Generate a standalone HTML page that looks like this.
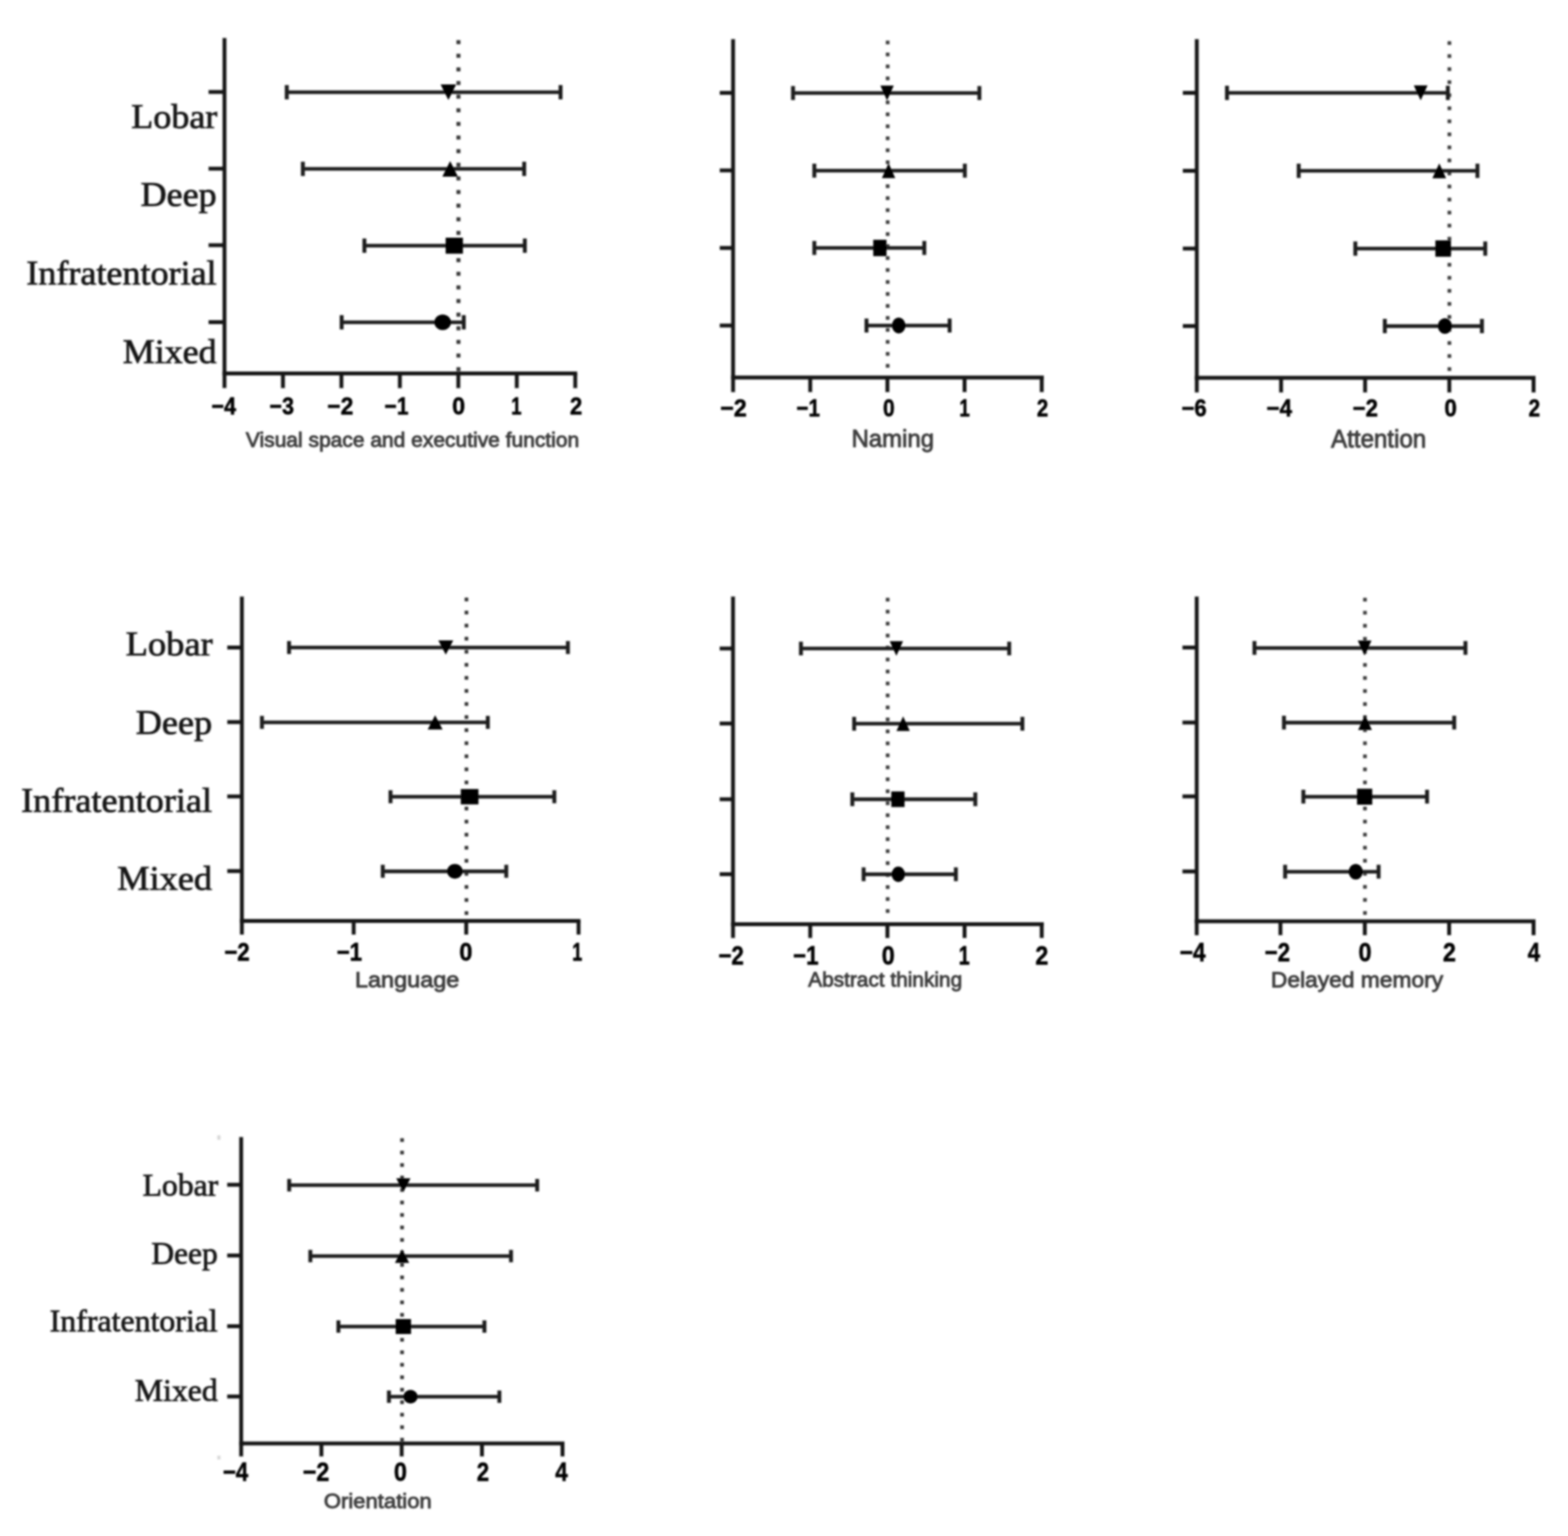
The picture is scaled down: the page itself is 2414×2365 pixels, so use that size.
<!DOCTYPE html>
<html lang="en">
<head>
<meta charset="utf-8">
<title>Forest plots of cognitive domains by location</title>
<style>
html, body { margin: 0; padding: 0; background: #ffffff; }
body { width: 2414px; height: 2365px; overflow: hidden; }
svg { display: block; }
.axis path { stroke: #161616; fill: none; }
.bars path { fill: none; }
.bars .mk { fill: #000000; stroke: none; }
.tl { font-family: "Liberation Sans", sans-serif; font-weight: bold; fill: #000000; stroke: #000000; stroke-width: 0.8px; }
.xl { font-family: "Liberation Sans", sans-serif; fill: #3d3d3d; stroke: #3d3d3d; stroke-width: 1.3px; }
.yl { font-family: "Liberation Serif", serif; fill: #141414; stroke: #141414; stroke-width: 1.1px; }
</style>
</head>
<body>
<svg width="2414" height="2365" viewBox="0 0 2414 2365">
<defs><filter id="soft" x="0" y="0" width="2414" height="2365" filterUnits="userSpaceOnUse"><feGaussianBlur stdDeviation="1.7"/></filter></defs>
<rect width="2414" height="2365" fill="#ffffff"/>
<g filter="url(#soft)">
<g class="panel">
<g class="axis" stroke-width="6">
<path d="M345.6 58.5V597.6"/>
<path d="M342.6 575.1H888.6"/>
<path d="M435.6 575.1v22.5"/>
<path d="M525.6 575.1v22.5"/>
<path d="M615.6 575.1v22.5"/>
<path d="M705.6 575.1v22.5"/>
<path d="M795.6 575.1v22.5"/>
<path d="M885.6 575.1v22.5"/>
<path d="M345.6 141.6h-24.5"/>
<path d="M345.6 259.7h-24.5"/>
<path d="M345.6 377.5h-24.5"/>
<path d="M345.6 496h-24.5"/>
</g>
<g class="zero" fill="#383838">
<rect x="702.7" y="61.8" width="6.2" height="6.2"/>
<rect x="702.7" y="82.78" width="6.2" height="6.2"/>
<rect x="702.7" y="103.76" width="6.2" height="6.2"/>
<rect x="702.7" y="124.74" width="6.2" height="6.2"/>
<rect x="702.7" y="145.72" width="6.2" height="6.2"/>
<rect x="702.7" y="166.7" width="6.2" height="6.2"/>
<rect x="702.7" y="187.68" width="6.2" height="6.2"/>
<rect x="702.7" y="208.66" width="6.2" height="6.2"/>
<rect x="702.7" y="229.64" width="6.2" height="6.2"/>
<rect x="702.7" y="250.62" width="6.2" height="6.2"/>
<rect x="702.7" y="271.6" width="6.2" height="6.2"/>
<rect x="702.7" y="292.58" width="6.2" height="6.2"/>
<rect x="702.7" y="313.56" width="6.2" height="6.2"/>
<rect x="702.7" y="334.54" width="6.2" height="6.2"/>
<rect x="702.7" y="355.52" width="6.2" height="6.2"/>
<rect x="702.7" y="376.5" width="6.2" height="6.2"/>
<rect x="702.7" y="397.48" width="6.2" height="6.2"/>
<rect x="702.7" y="418.46" width="6.2" height="6.2"/>
<rect x="702.7" y="439.44" width="6.2" height="6.2"/>
<rect x="702.7" y="460.42" width="6.2" height="6.2"/>
<rect x="702.7" y="481.4" width="6.2" height="6.2"/>
<rect x="702.7" y="502.38" width="6.2" height="6.2"/>
<rect x="702.7" y="523.36" width="6.2" height="6.2"/>
<rect x="702.7" y="544.34" width="6.2" height="6.2"/>
<rect x="702.7" y="565.32" width="6.2" height="6.2"/>
</g>
<g class="bars" stroke-width="5.6" stroke="#1c1c1c">
<path d="M441.5 142H863"/>
<path class="cap" stroke-width="6" d="M441.5 131v22M863 131v22"/>
<polygon points="678.3,130 702.3,130 690.3,154" class="mk"/>
<path d="M466.3 260H807"/>
<path class="cap" stroke-width="6" d="M466.3 249v22M807 249v22"/>
<polygon points="681,272 705,272 693,248" class="mk"/>
<path d="M561 378.3H808"/>
<path class="cap" stroke-width="6" d="M561 367.3v22M808 367.3v22"/>
<rect x="686.1" y="366" width="26.6" height="24.6" class="mk"/>
<path d="M526 496.3H714"/>
<path class="cap" stroke-width="6" d="M526 485.3v22M714 485.3v22"/>
<ellipse cx="681.5" cy="496.3" rx="12.8" ry="12" class="mk"/>
</g>
<text class="tl" font-size="37.5" transform="translate(325.7 637.9) scale(0.8795 1)">−4</text>
<text class="tl" font-size="37.5" transform="translate(415 637.9) scale(0.8819 1)">−3</text>
<text class="tl" font-size="37.5" transform="translate(504 637.9) scale(0.9333 1)">−2</text>
<text class="tl" font-size="37.5" transform="translate(592.1 637.9) scale(0.8585 1)">−1</text>
<text class="tl" font-size="37.5" transform="translate(696.2 637.9) scale(0.9465 1)">0</text>
<text class="tl" font-size="37.5" transform="translate(787.1 637.9) scale(0.7640 1)">1</text>
<text class="tl" font-size="37.5" transform="translate(877.4 637.9) scale(0.9033 1)">2</text>
<text class="xl" font-size="30.5" transform="translate(378.6 687.5) scale(1.0598 1)">Visual space and executive function</text>
<text class="yl" font-size="52" transform="translate(202 196.5) scale(1.0673 1)">Lobar</text>
<text class="yl" font-size="52" transform="translate(216.5 316.5) scale(1.0664 1)">Deep</text>
<text class="yl" font-size="52" transform="translate(40.5 438) scale(1.0682 1)">Infratentorial</text>
<text class="yl" font-size="52" transform="translate(189 558.5) scale(1.0647 1)">Mixed</text>
</g>
<g class="panel">
<g class="axis" stroke-width="6">
<path d="M1128.6 60.3V603.7"/>
<path d="M1125.6 581.2H1607"/>
<path d="M1247.4 581.2v22.5"/>
<path d="M1366.2 581.2v22.5"/>
<path d="M1485 581.2v22.5"/>
<path d="M1603.8 581.2v22.5"/>
<path d="M1128.6 143h-20.5"/>
<path d="M1128.6 262.4h-20.5"/>
<path d="M1128.6 381.8h-20.5"/>
<path d="M1128.6 501.2h-20.5"/>
</g>
<g class="zero" fill="#3c3c3c">
<rect x="1363.75" y="62.55" width="5.7" height="5.7"/>
<rect x="1363.75" y="80.99" width="5.7" height="5.7"/>
<rect x="1363.75" y="99.43" width="5.7" height="5.7"/>
<rect x="1363.75" y="117.87" width="5.7" height="5.7"/>
<rect x="1363.75" y="136.31" width="5.7" height="5.7"/>
<rect x="1363.75" y="154.75" width="5.7" height="5.7"/>
<rect x="1363.75" y="173.19" width="5.7" height="5.7"/>
<rect x="1363.75" y="191.63" width="5.7" height="5.7"/>
<rect x="1363.75" y="210.07" width="5.7" height="5.7"/>
<rect x="1363.75" y="228.51" width="5.7" height="5.7"/>
<rect x="1363.75" y="246.95" width="5.7" height="5.7"/>
<rect x="1363.75" y="265.39" width="5.7" height="5.7"/>
<rect x="1363.75" y="283.83" width="5.7" height="5.7"/>
<rect x="1363.75" y="302.27" width="5.7" height="5.7"/>
<rect x="1363.75" y="320.71" width="5.7" height="5.7"/>
<rect x="1363.75" y="339.15" width="5.7" height="5.7"/>
<rect x="1363.75" y="357.59" width="5.7" height="5.7"/>
<rect x="1363.75" y="376.03" width="5.7" height="5.7"/>
<rect x="1363.75" y="394.47" width="5.7" height="5.7"/>
<rect x="1363.75" y="412.91" width="5.7" height="5.7"/>
<rect x="1363.75" y="431.35" width="5.7" height="5.7"/>
<rect x="1363.75" y="449.79" width="5.7" height="5.7"/>
<rect x="1363.75" y="468.23" width="5.7" height="5.7"/>
<rect x="1363.75" y="486.67" width="5.7" height="5.7"/>
<rect x="1363.75" y="505.11" width="5.7" height="5.7"/>
<rect x="1363.75" y="523.55" width="5.7" height="5.7"/>
<rect x="1363.75" y="541.99" width="5.7" height="5.7"/>
<rect x="1363.75" y="560.43" width="5.7" height="5.7"/>
</g>
<g class="bars" stroke-width="5.6" stroke="#1c1c1c">
<path d="M1220.9 143.3H1507.8"/>
<path class="cap" stroke-width="6" d="M1220.9 132.5v21.6M1507.8 132.5v21.6"/>
<polygon points="1355.4,131.8 1376,131.8 1365.7,154.8" class="mk"/>
<path d="M1253.7 262.8H1485.4"/>
<path class="cap" stroke-width="6" d="M1253.7 252v21.6M1485.4 252v21.6"/>
<polygon points="1357.7,274.3 1378.3,274.3 1368,251.3" class="mk"/>
<path d="M1253.7 381.8H1423"/>
<path class="cap" stroke-width="6" d="M1253.7 371v21.6M1423 371v21.6"/>
<rect x="1344.4" y="369.2" width="20.4" height="25.2" class="mk"/>
<path d="M1334 501.2H1462"/>
<path class="cap" stroke-width="6" d="M1334 490.4v21.6M1462 490.4v21.6"/>
<ellipse cx="1383.6" cy="501.2" rx="10.3" ry="12.2" class="mk"/>
</g>
<text class="tl" font-size="37.5" transform="translate(1108.9 640.8) scale(0.9520 1)">−2</text>
<text class="tl" font-size="37.5" transform="translate(1226.2 640.8) scale(0.8421 1)">−1</text>
<text class="tl" font-size="37.5" transform="translate(1359.6 640.8) scale(0.8553 1)">0</text>
<text class="tl" font-size="37.5" transform="translate(1476.9 640.8) scale(0.7688 1)">1</text>
<text class="tl" font-size="37.5" transform="translate(1596.3 640.8) scale(0.8408 1)">2</text>
<text class="xl" font-size="37" transform="translate(1311 687.6) scale(0.9964 1)">Naming</text>
</g>
<g class="panel">
<g class="axis" stroke-width="6">
<path d="M1842.5 60.3V604.3"/>
<path d="M1839.5 581.8H2364"/>
<path d="M1972.3 581.8v22.5"/>
<path d="M2101.6 581.8v22.5"/>
<path d="M2231.3 581.8v22.5"/>
<path d="M2361 581.8v22.5"/>
<path d="M1842.5 143h-21.5"/>
<path d="M1842.5 263h-21.5"/>
<path d="M1842.5 382.7h-21.5"/>
<path d="M1842.5 502h-21.5"/>
</g>
<g class="zero" fill="#3c3c3c">
<rect x="2228.55" y="63.45" width="5.7" height="5.7"/>
<rect x="2228.55" y="83.53" width="5.7" height="5.7"/>
<rect x="2228.55" y="103.61" width="5.7" height="5.7"/>
<rect x="2228.55" y="123.69" width="5.7" height="5.7"/>
<rect x="2228.55" y="143.77" width="5.7" height="5.7"/>
<rect x="2228.55" y="163.85" width="5.7" height="5.7"/>
<rect x="2228.55" y="183.93" width="5.7" height="5.7"/>
<rect x="2228.55" y="204.01" width="5.7" height="5.7"/>
<rect x="2228.55" y="224.09" width="5.7" height="5.7"/>
<rect x="2228.55" y="244.17" width="5.7" height="5.7"/>
<rect x="2228.55" y="264.25" width="5.7" height="5.7"/>
<rect x="2228.55" y="284.33" width="5.7" height="5.7"/>
<rect x="2228.55" y="304.41" width="5.7" height="5.7"/>
<rect x="2228.55" y="324.49" width="5.7" height="5.7"/>
<rect x="2228.55" y="344.57" width="5.7" height="5.7"/>
<rect x="2228.55" y="364.65" width="5.7" height="5.7"/>
<rect x="2228.55" y="384.73" width="5.7" height="5.7"/>
<rect x="2228.55" y="404.81" width="5.7" height="5.7"/>
<rect x="2228.55" y="424.89" width="5.7" height="5.7"/>
<rect x="2228.55" y="444.97" width="5.7" height="5.7"/>
<rect x="2228.55" y="465.05" width="5.7" height="5.7"/>
<rect x="2228.55" y="485.13" width="5.7" height="5.7"/>
<rect x="2228.55" y="505.21" width="5.7" height="5.7"/>
<rect x="2228.55" y="525.29" width="5.7" height="5.7"/>
<rect x="2228.55" y="545.37" width="5.7" height="5.7"/>
<rect x="2228.55" y="565.45" width="5.7" height="5.7"/>
</g>
<g class="bars" stroke-width="5.6" stroke="#1c1c1c">
<path d="M1889 143H2229"/>
<path class="cap" stroke-width="6" d="M1889 132v22M2229 132v22"/>
<polygon points="2176.6,131.5 2197.8,131.5 2187.2,154.5" class="mk"/>
<path d="M1999.4 263H2274.6"/>
<path class="cap" stroke-width="6" d="M1999.4 252v22M2274.6 252v22"/>
<polygon points="2205.2,274.5 2226.4,274.5 2215.8,251.5" class="mk"/>
<path d="M2086.6 382.7H2286.6"/>
<path class="cap" stroke-width="6" d="M2086.6 371.7v22M2286.6 371.7v22"/>
<rect x="2209.8" y="370.1" width="24" height="25.2" class="mk"/>
<path d="M2132 502.1H2281.5"/>
<path class="cap" stroke-width="6" d="M2132 491.1v22M2281.5 491.1v22"/>
<ellipse cx="2224.5" cy="502.1" rx="10.8" ry="12" class="mk"/>
</g>
<text class="tl" font-size="37" transform="translate(1819 640.8) scale(0.9175 1)">−6</text>
<text class="tl" font-size="37" transform="translate(1949.8 640.8) scale(0.9317 1)">−4</text>
<text class="tl" font-size="37" transform="translate(2082.6 640.8) scale(0.9175 1)">−2</text>
<text class="tl" font-size="37" transform="translate(2223.8 640.8) scale(0.9252 1)">0</text>
<text class="tl" font-size="37" transform="translate(2353.3 640.8) scale(0.8668 1)">2</text>
<text class="xl" font-size="38" transform="translate(2049.3 688.5) scale(0.9760 1)">Attention</text>
</g>
<g class="panel">
<g class="axis" stroke-width="6">
<path d="M372.4 918.5V1439"/>
<path d="M369.4 1418H893.7"/>
<path d="M544.5 1418v21"/>
<path d="M717.8 1418v21"/>
<path d="M890.7 1418v21"/>
<path d="M372.4 997h-22.5"/>
<path d="M372.4 1111.8h-22.5"/>
<path d="M372.4 1226.3h-22.5"/>
<path d="M372.4 1341.2h-22.5"/>
</g>
<g class="zero" fill="#383838">
<rect x="715.25" y="920.15" width="5.7" height="5.7"/>
<rect x="715.25" y="940.27" width="5.7" height="5.7"/>
<rect x="715.25" y="960.39" width="5.7" height="5.7"/>
<rect x="715.25" y="980.51" width="5.7" height="5.7"/>
<rect x="715.25" y="1000.63" width="5.7" height="5.7"/>
<rect x="715.25" y="1020.75" width="5.7" height="5.7"/>
<rect x="715.25" y="1040.87" width="5.7" height="5.7"/>
<rect x="715.25" y="1060.99" width="5.7" height="5.7"/>
<rect x="715.25" y="1081.11" width="5.7" height="5.7"/>
<rect x="715.25" y="1101.23" width="5.7" height="5.7"/>
<rect x="715.25" y="1121.35" width="5.7" height="5.7"/>
<rect x="715.25" y="1141.47" width="5.7" height="5.7"/>
<rect x="715.25" y="1161.59" width="5.7" height="5.7"/>
<rect x="715.25" y="1181.71" width="5.7" height="5.7"/>
<rect x="715.25" y="1201.83" width="5.7" height="5.7"/>
<rect x="715.25" y="1221.95" width="5.7" height="5.7"/>
<rect x="715.25" y="1242.07" width="5.7" height="5.7"/>
<rect x="715.25" y="1262.19" width="5.7" height="5.7"/>
<rect x="715.25" y="1282.31" width="5.7" height="5.7"/>
<rect x="715.25" y="1302.43" width="5.7" height="5.7"/>
<rect x="715.25" y="1322.55" width="5.7" height="5.7"/>
<rect x="715.25" y="1342.67" width="5.7" height="5.7"/>
<rect x="715.25" y="1362.79" width="5.7" height="5.7"/>
<rect x="715.25" y="1382.91" width="5.7" height="5.7"/>
<rect x="715.25" y="1403.03" width="5.7" height="5.7"/>
</g>
<g class="bars" stroke-width="5.6" stroke="#1c1c1c">
<path d="M445 997H874.3"/>
<path class="cap" stroke-width="6" d="M445 987v20M874.3 987v20"/>
<polygon points="674.8,986 697.8,986 686.3,1008" class="mk"/>
<path d="M403.3 1112.3H751"/>
<path class="cap" stroke-width="6" d="M403.3 1102.3v20M751 1102.3v20"/>
<polygon points="658.4,1123.3 681.4,1123.3 669.9,1101.3" class="mk"/>
<path d="M601.2 1226.7H853.4"/>
<path class="cap" stroke-width="6" d="M601.2 1216.7v20M853.4 1216.7v20"/>
<rect x="709.4" y="1214.9" width="27.2" height="23.6" class="mk"/>
<path d="M589.3 1341.6H779.4"/>
<path class="cap" stroke-width="6" d="M589.3 1331.6v20M779.4 1331.6v20"/>
<ellipse cx="700.3" cy="1341.6" rx="12" ry="11.3" class="mk"/>
</g>
<text class="tl" font-size="38" transform="translate(345.2 1478.5) scale(0.9049 1)">−2</text>
<text class="tl" font-size="38" transform="translate(518.2 1478.5) scale(0.9026 1)">−1</text>
<text class="tl" font-size="38" transform="translate(707.2 1478.5) scale(0.9483 1)">0</text>
<text class="tl" font-size="38" transform="translate(881 1478.5) scale(0.7302 1)">1</text>
<text class="xl" font-size="34" transform="translate(546.4 1520) scale(1.0635 1)">Language</text>
<text class="yl" font-size="53" transform="translate(193.5 1009.2) scale(1.0590 1)">Lobar</text>
<text class="yl" font-size="53" transform="translate(209 1129.6) scale(1.0507 1)">Deep</text>
<text class="yl" font-size="53" transform="translate(32.5 1249.9) scale(1.0516 1)">Infratentorial</text>
<text class="yl" font-size="53" transform="translate(180.5 1369.8) scale(1.0554 1)">Mixed</text>
</g>
<g class="panel">
<g class="axis" stroke-width="6">
<path d="M1128.5 918.5V1444.2"/>
<path d="M1125.5 1423H1607"/>
<path d="M1247.4 1423v21.2"/>
<path d="M1366.2 1423v21.2"/>
<path d="M1485 1423v21.2"/>
<path d="M1603.8 1423v21.2"/>
<path d="M1128.5 998.5h-20.5"/>
<path d="M1128.5 1114h-20.5"/>
<path d="M1128.5 1230.6h-20.5"/>
<path d="M1128.5 1346h-20.5"/>
</g>
<g class="zero" fill="#3c3c3c">
<rect x="1363.75" y="920.45" width="5.7" height="5.7"/>
<rect x="1363.75" y="938.89" width="5.7" height="5.7"/>
<rect x="1363.75" y="957.33" width="5.7" height="5.7"/>
<rect x="1363.75" y="975.77" width="5.7" height="5.7"/>
<rect x="1363.75" y="994.21" width="5.7" height="5.7"/>
<rect x="1363.75" y="1012.65" width="5.7" height="5.7"/>
<rect x="1363.75" y="1031.09" width="5.7" height="5.7"/>
<rect x="1363.75" y="1049.53" width="5.7" height="5.7"/>
<rect x="1363.75" y="1067.97" width="5.7" height="5.7"/>
<rect x="1363.75" y="1086.41" width="5.7" height="5.7"/>
<rect x="1363.75" y="1104.85" width="5.7" height="5.7"/>
<rect x="1363.75" y="1123.29" width="5.7" height="5.7"/>
<rect x="1363.75" y="1141.73" width="5.7" height="5.7"/>
<rect x="1363.75" y="1160.17" width="5.7" height="5.7"/>
<rect x="1363.75" y="1178.61" width="5.7" height="5.7"/>
<rect x="1363.75" y="1197.05" width="5.7" height="5.7"/>
<rect x="1363.75" y="1215.49" width="5.7" height="5.7"/>
<rect x="1363.75" y="1233.93" width="5.7" height="5.7"/>
<rect x="1363.75" y="1252.37" width="5.7" height="5.7"/>
<rect x="1363.75" y="1270.81" width="5.7" height="5.7"/>
<rect x="1363.75" y="1289.25" width="5.7" height="5.7"/>
<rect x="1363.75" y="1307.69" width="5.7" height="5.7"/>
<rect x="1363.75" y="1326.13" width="5.7" height="5.7"/>
<rect x="1363.75" y="1344.57" width="5.7" height="5.7"/>
<rect x="1363.75" y="1363.01" width="5.7" height="5.7"/>
<rect x="1363.75" y="1381.45" width="5.7" height="5.7"/>
<rect x="1363.75" y="1399.89" width="5.7" height="5.7"/>
</g>
<g class="bars" stroke-width="5.6" stroke="#1c1c1c">
<path d="M1233.1 998.5H1553.7"/>
<path class="cap" stroke-width="6" d="M1233.1 987.9v21.2M1553.7 987.9v21.2"/>
<polygon points="1369.7,987.2 1390.3,987.2 1380,1009.8" class="mk"/>
<path d="M1315 1114.3H1574"/>
<path class="cap" stroke-width="6" d="M1315 1103.7v21.2M1574 1103.7v21.2"/>
<polygon points="1380.1,1125.6 1400.7,1125.6 1390.4,1103" class="mk"/>
<path d="M1312.2 1230.6H1501.5"/>
<path class="cap" stroke-width="6" d="M1312.2 1220v21.2M1501.5 1220v21.2"/>
<rect x="1372.2" y="1218.6" width="20.4" height="24" class="mk"/>
<path d="M1329.6 1346.1H1471.6"/>
<path class="cap" stroke-width="6" d="M1329.6 1335.5v21.2M1471.6 1335.5v21.2"/>
<ellipse cx="1383" cy="1346.1" rx="10.3" ry="11.8" class="mk"/>
</g>
<text class="tl" font-size="40" transform="translate(1105.9 1485) scale(0.8618 1)">−2</text>
<text class="tl" font-size="40" transform="translate(1220.8 1485) scale(0.8618 1)">−1</text>
<text class="tl" font-size="40" transform="translate(1357.5 1485) scale(0.8964 1)">0</text>
<text class="tl" font-size="40" transform="translate(1476 1485) scale(0.7613 1)">1</text>
<text class="tl" font-size="40" transform="translate(1593.9 1485) scale(0.8964 1)">2</text>
<text class="xl" font-size="32" transform="translate(1244.3 1519.2) scale(1.0019 1)">Abstract thinking</text>
</g>
<g class="panel">
<g class="axis" stroke-width="6">
<path d="M1842.4 918.5V1439.9"/>
<path d="M1839.4 1418.5H2364"/>
<path d="M1971.3 1418.5v21.4"/>
<path d="M2101.2 1418.5v21.4"/>
<path d="M2231 1418.5v21.4"/>
<path d="M2361 1418.5v21.4"/>
<path d="M1842.4 997h-22"/>
<path d="M1842.4 1112.5h-22"/>
<path d="M1842.4 1226.2h-22"/>
<path d="M1842.4 1341.8h-22"/>
</g>
<g class="zero" fill="#3c3c3c">
<rect x="2098.55" y="920.45" width="5.7" height="5.7"/>
<rect x="2098.55" y="940.55" width="5.7" height="5.7"/>
<rect x="2098.55" y="960.65" width="5.7" height="5.7"/>
<rect x="2098.55" y="980.75" width="5.7" height="5.7"/>
<rect x="2098.55" y="1000.85" width="5.7" height="5.7"/>
<rect x="2098.55" y="1020.95" width="5.7" height="5.7"/>
<rect x="2098.55" y="1041.05" width="5.7" height="5.7"/>
<rect x="2098.55" y="1061.15" width="5.7" height="5.7"/>
<rect x="2098.55" y="1081.25" width="5.7" height="5.7"/>
<rect x="2098.55" y="1101.35" width="5.7" height="5.7"/>
<rect x="2098.55" y="1121.45" width="5.7" height="5.7"/>
<rect x="2098.55" y="1141.55" width="5.7" height="5.7"/>
<rect x="2098.55" y="1161.65" width="5.7" height="5.7"/>
<rect x="2098.55" y="1181.75" width="5.7" height="5.7"/>
<rect x="2098.55" y="1201.85" width="5.7" height="5.7"/>
<rect x="2098.55" y="1221.95" width="5.7" height="5.7"/>
<rect x="2098.55" y="1242.05" width="5.7" height="5.7"/>
<rect x="2098.55" y="1262.15" width="5.7" height="5.7"/>
<rect x="2098.55" y="1282.25" width="5.7" height="5.7"/>
<rect x="2098.55" y="1302.35" width="5.7" height="5.7"/>
<rect x="2098.55" y="1322.45" width="5.7" height="5.7"/>
<rect x="2098.55" y="1342.55" width="5.7" height="5.7"/>
<rect x="2098.55" y="1362.65" width="5.7" height="5.7"/>
<rect x="2098.55" y="1382.75" width="5.7" height="5.7"/>
<rect x="2098.55" y="1402.85" width="5.7" height="5.7"/>
</g>
<g class="bars" stroke-width="5.6" stroke="#1c1c1c">
<path d="M1931.3 997.7H2256.1"/>
<path class="cap" stroke-width="6" d="M1931.3 987.1v21.2M2256.1 987.1v21.2"/>
<polygon points="2090.3,986.2 2111.5,986.2 2100.9,1009.2" class="mk"/>
<path d="M1976.7 1112.6H2238.8"/>
<path class="cap" stroke-width="6" d="M1976.7 1102v21.2M2238.8 1102v21.2"/>
<polygon points="2090.9,1124.1 2112.1,1124.1 2101.5,1101.1" class="mk"/>
<path d="M2006.6 1226.7H2197"/>
<path class="cap" stroke-width="6" d="M2006.6 1216.1v21.2M2197 1216.1v21.2"/>
<rect x="2089.2" y="1214.4" width="23.4" height="24.6" class="mk"/>
<path d="M1978.5 1342.2H2122.4"/>
<path class="cap" stroke-width="6" d="M1978.5 1331.6v21.2M2122.4 1331.6v21.2"/>
<ellipse cx="2087.2" cy="1342.2" rx="10.8" ry="12" class="mk"/>
</g>
<text class="tl" font-size="40" transform="translate(1816 1480.3) scale(0.8816 1)">−4</text>
<text class="tl" font-size="40" transform="translate(1946.8 1480.3) scale(0.8618 1)">−2</text>
<text class="tl" font-size="40" transform="translate(2091.5 1480.3) scale(0.9009 1)">0</text>
<text class="tl" font-size="40" transform="translate(2221.4 1480.3) scale(0.8964 1)">2</text>
<text class="tl" font-size="40" transform="translate(2352.1 1480.3) scale(0.8559 1)">4</text>
<text class="xl" font-size="34" transform="translate(1956.6 1519.7) scale(1.0321 1)">Delayed memory</text>
</g>
<g class="panel">
<g class="axis" stroke-width="6">
<path d="M371.3 1750.7V2242.5"/>
<path d="M368.3 2222.5H869"/>
<path d="M494.8 2222.5v20"/>
<path d="M618.4 2222.5v20"/>
<path d="M742 2222.5v20"/>
<path d="M866 2222.5v20"/>
<path d="M371.3 1824.2h-21.5"/>
<path d="M371.3 1933.1h-21.5"/>
<path d="M371.3 2042h-21.5"/>
<path d="M371.3 2150.2h-21.5"/>
</g>
<g class="zero" fill="#383838">
<rect x="616.15" y="1752.55" width="5.7" height="5.7"/>
<rect x="616.15" y="1771.77" width="5.7" height="5.7"/>
<rect x="616.15" y="1790.99" width="5.7" height="5.7"/>
<rect x="616.15" y="1810.21" width="5.7" height="5.7"/>
<rect x="616.15" y="1829.43" width="5.7" height="5.7"/>
<rect x="616.15" y="1848.65" width="5.7" height="5.7"/>
<rect x="616.15" y="1867.87" width="5.7" height="5.7"/>
<rect x="616.15" y="1887.09" width="5.7" height="5.7"/>
<rect x="616.15" y="1906.31" width="5.7" height="5.7"/>
<rect x="616.15" y="1925.53" width="5.7" height="5.7"/>
<rect x="616.15" y="1944.75" width="5.7" height="5.7"/>
<rect x="616.15" y="1963.97" width="5.7" height="5.7"/>
<rect x="616.15" y="1983.19" width="5.7" height="5.7"/>
<rect x="616.15" y="2002.41" width="5.7" height="5.7"/>
<rect x="616.15" y="2021.63" width="5.7" height="5.7"/>
<rect x="616.15" y="2040.85" width="5.7" height="5.7"/>
<rect x="616.15" y="2060.07" width="5.7" height="5.7"/>
<rect x="616.15" y="2079.29" width="5.7" height="5.7"/>
<rect x="616.15" y="2098.51" width="5.7" height="5.7"/>
<rect x="616.15" y="2117.73" width="5.7" height="5.7"/>
<rect x="616.15" y="2136.95" width="5.7" height="5.7"/>
<rect x="616.15" y="2156.17" width="5.7" height="5.7"/>
<rect x="616.15" y="2175.39" width="5.7" height="5.7"/>
<rect x="616.15" y="2194.61" width="5.7" height="5.7"/>
<rect x="616.15" y="2213.83" width="5.7" height="5.7"/>
</g>
<g class="bars" stroke-width="5.6" stroke="#1c1c1c">
<path d="M445.2 1824.8H827"/>
<path class="cap" stroke-width="6" d="M445.2 1815.2v19.2M827 1815.2v19.2"/>
<polygon points="610,1814.3 632,1814.3 621,1835.3" class="mk"/>
<path d="M477.8 1934H786.7"/>
<path class="cap" stroke-width="6" d="M477.8 1924.4v19.2M786.7 1924.4v19.2"/>
<polygon points="608,1944.5 630,1944.5 619,1923.5" class="mk"/>
<path d="M521 2042.5H745.8"/>
<path class="cap" stroke-width="6" d="M521 2032.9v19.2M745.8 2032.9v19.2"/>
<rect x="609.2" y="2031" width="23.6" height="23" class="mk"/>
<path d="M598.8 2150.5H768.8"/>
<path class="cap" stroke-width="6" d="M598.8 2140.9v19.2M768.8 2140.9v19.2"/>
<ellipse cx="632" cy="2150.5" rx="10.8" ry="10.5" class="mk"/>
</g>
<text class="tl" font-size="40" transform="translate(342.9 2280.3) scale(0.8618 1)">−4</text>
<text class="tl" font-size="40" transform="translate(465.9 2280.3) scale(0.9013 1)">−2</text>
<text class="tl" font-size="40" transform="translate(606.5 2280.3) scale(0.8964 1)">0</text>
<text class="tl" font-size="40" transform="translate(733.9 2280.3) scale(0.8559 1)">2</text>
<text class="tl" font-size="40" transform="translate(854.8 2280.3) scale(0.8694 1)">4</text>
<text class="xl" font-size="32" transform="translate(498.5 2321.5) scale(1.0622 1)">Orientation</text>
<text class="yl" font-size="49" transform="translate(219.5 1840.5) scale(0.9958 1)">Lobar</text>
<text class="yl" font-size="49" transform="translate(233 1945.8) scale(0.9895 1)">Deep</text>
<text class="yl" font-size="49" transform="translate(76.5 2050) scale(1.0013 1)">Infratentorial</text>
<text class="yl" font-size="49" transform="translate(207.5 2156.6) scale(0.9993 1)">Mixed</text>
</g>
<g class="specks" fill="#d9d9d9"><rect x="334.5" y="1748" width="5" height="7"/><rect x="334.5" y="2241.3" width="5" height="6"/></g>
</g>
</svg>
</body>
</html>
